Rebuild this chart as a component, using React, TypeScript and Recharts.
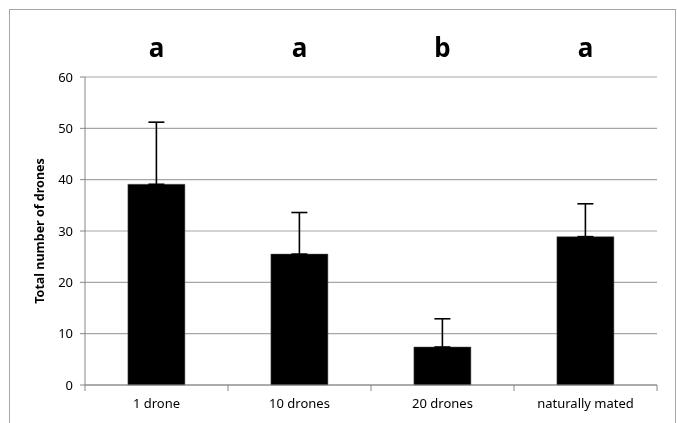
import {
  BarChart,
  Bar,
  XAxis,
  YAxis,
  CartesianGrid,
  ErrorBar,
} from "recharts"

const categories = ["1 drone", "10 drones", "20 drones", "naturally mated"]
const means = [39.1, 25.5, 7.4, 28.9]
const upperErrors = [12.1, 8.1, 5.5, 6.4]
const letters = ["a", "a", "b", "a"]
const yTicks = [0, 10, 20, 30, 40, 50, 60]

const FONT = "'Noto Sans', 'Open Sans', sans-serif"

const W = 677
const H = 423
const Y_AXIS_W = 85
const RIGHT = 20
const HALF_BAND = (W - Y_AXIS_W - RIGHT) / categories.length / 2

const data = categories.map((name, i) => ({
  name,
  value: means[i],
  err: [0, upperErrors[i]],
  letter: letters[i],
}))

// Excel style: tick marks sit between the categories, label in the middle
// eslint-disable-next-line @typescript-eslint/no-explicit-any
function CategoryTick({ x, y, payload, index }: any) {
  const last = index === categories.length - 1
  return (
    <g>
      <line x1={x - HALF_BAND} x2={x - HALF_BAND} y1={y - 12} y2={y - 6} stroke="#868686" />
      {last && (
        <line x1={x + HALF_BAND} x2={x + HALF_BAND} y1={y - 12} y2={y - 6} stroke="#868686" />
      )}
      <text x={x} y={y + 11} textAnchor="middle" fontSize={13} fill="#000" fontFamily={FONT}>
        {payload.value}
      </text>
    </g>
  )
}

export default function App() {
  return (
    <div style={{ position: "relative", width: 661, height: 400 }}>
      <div
        style={{
          position: "fixed",
          left: 9,
          top: 9,
          width: 667,
          height: 430,
          boxSizing: "border-box",
          border: "1px solid #a6a6a6",
          borderBottom: "none",
        }}
      />
      <div style={{ position: "fixed", left: 0, top: 0 }}>
        <BarChart
          width={W}
          height={H}
          data={data}
          margin={{ top: 47, right: RIGHT, left: 0, bottom: 8 }}
          barCategoryGap="30%"
        >
          <CartesianGrid vertical={false} stroke="#a6a6a6" strokeWidth={1.2} />
          <XAxis
            xAxisId="top"
            orientation="top"
            dataKey="letter"
            height={30}
            axisLine={false}
            tickLine={false}
            tickSize={0}
            tickMargin={20}
            tick={{ fontSize: 26, fontWeight: 700, fill: "#000", fontFamily: FONT }}
          />
          <XAxis
            dataKey="name"
            height={30}
            axisLine={{ stroke: "#868686" }}
            tickLine={false}
            tickSize={0}
            tickMargin={12}
            interval={0}
            tick={<CategoryTick />}
          />
          <YAxis
            domain={[0, 60]}
            ticks={yTicks}
            width={Y_AXIS_W}
            axisLine={{ stroke: "#868686" }}
            tickLine={{ stroke: "#868686" }}
            tickSize={5}
            tickMargin={7}
            tick={{ fontSize: 13, fill: "#000", fontFamily: FONT }}
            label={{
              value: "Total number of drones",
              angle: -90,
              position: "center",
              dx: -3,
              style: { fontSize: 12.5, fontWeight: 700, fill: "#000", fontFamily: FONT },
            }}
          />
          <Bar dataKey="value" fill="#000" stroke="#555" strokeWidth={0.5} isAnimationActive={false}>
            <ErrorBar dataKey="err" direction="y" width={8} stroke="#000" strokeWidth={1.6} />
          </Bar>
        </BarChart>
      </div>
    </div>
  )
}
